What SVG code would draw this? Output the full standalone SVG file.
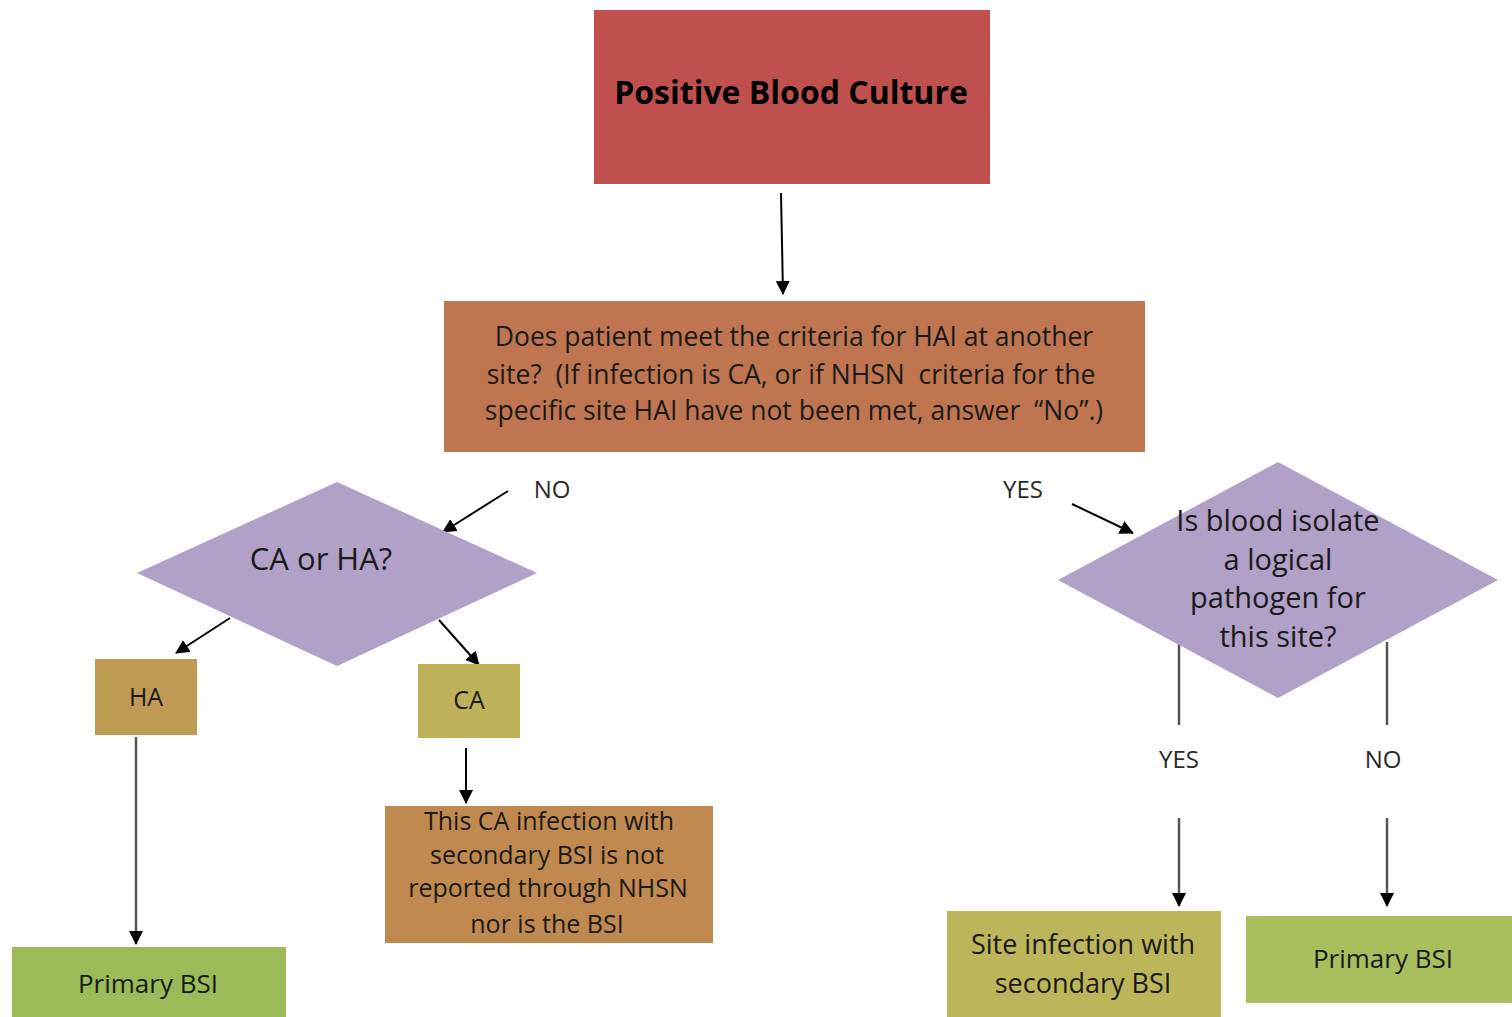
<svg xmlns="http://www.w3.org/2000/svg" width="1512" height="1017" viewBox="0 0 1512 1017">
<defs>
<marker id="ah" markerWidth="14" markerHeight="14" refX="13" refY="7" orient="auto" markerUnits="userSpaceOnUse" viewBox="0 0 14 14">
<path d="M0,0 L14,7 L0,14 z" fill="#000"/>
</marker>
<style>
text{font-family:"Open Sans","Liberation Sans",sans-serif;fill:#1a1a1a;text-anchor:middle;white-space:pre}
.lbl{font-size:24px;fill:#2a2a2a}
.c{stroke:#000;stroke-width:2;fill:none}
.g{stroke:#555;stroke-width:2.5;fill:none}
</style>
</defs>
<rect width="1512" height="1017" fill="#fff"/>
<g id="connectors">
<line class="c" x1="781" y1="193" x2="783" y2="294" marker-end="url(#ah)"/>
<line class="c" x1="508" y1="491" x2="443" y2="532" marker-end="url(#ah)"/>
<line class="c" x1="1072" y1="504" x2="1133" y2="533" marker-end="url(#ah)"/>
<line class="c" x1="230" y1="618" x2="176" y2="653" marker-end="url(#ah)"/>
<line class="c" x1="439" y1="620" x2="479" y2="665" marker-end="url(#ah)"/>
<line class="g" x1="136" y1="737" x2="136" y2="944" marker-end="url(#ah)"/>
<line class="c" x1="466" y1="748" x2="466" y2="803" marker-end="url(#ah)"/>
<line class="g" x1="1179" y1="642" x2="1179" y2="725"/>
<line class="g" x1="1387" y1="642" x2="1387" y2="725"/>
<line class="g" x1="1179" y1="818" x2="1179" y2="906" marker-end="url(#ah)"/>
<line class="g" x1="1387" y1="818" x2="1387" y2="906" marker-end="url(#ah)"/>
<text class="lbl" x="552" y="498">NO</text>
<text class="lbl" x="1023" y="498">YES</text>
<text class="lbl" x="1179" y="768">YES</text>
<text class="lbl" x="1383" y="768">NO</text>
</g>
<g id="start">
<rect x="594" y="10" width="396" height="174" fill="#C0504D"/>
<text x="791" y="104" style="font-size:32px;font-weight:bold;fill:#000">Positive Blood Culture</text>
</g>
<g id="q1">
<rect x="444" y="301" width="701" height="151" fill="#BE7550"/>
<text x="794" y="346" style="font-size:26.5px">Does patient meet the criteria for HAI at another</text>
<text x="791" y="384" style="font-size:26.5px">site?  (If infection is CA, or if NHSN  criteria for the</text>
<text x="794" y="420" style="font-size:26.5px">specific site HAI have not been met, answer  “No”.)</text>
</g>
<g id="q2">
<polygon points="337,482 537,573 337,666 137,573" fill="#B1A0C7"/>
<text x="321" y="570" style="font-size:31px">CA or HA?</text>
</g>
<g id="ha">
<rect x="95" y="659" width="102" height="76" fill="#BF9A52"/>
<text x="146" y="706" style="font-size:25px">HA</text>
</g>
<g id="ca">
<rect x="418" y="664" width="102" height="74" fill="#BFB05A"/>
<text x="469" y="709" style="font-size:25px">CA</text>
</g>
<g id="caresult">
<rect x="385" y="806" width="328" height="137" fill="#C0894F"/>
<text x="549" y="830" style="font-size:25px">This CA infection with</text>
<text x="547" y="864" style="font-size:25px">secondary BSI is not</text>
<text x="548" y="897" style="font-size:25px">reported through NHSN</text>
<text x="547" y="933" style="font-size:25px">nor is the BSI</text>
</g>
<g id="primary1">
<rect x="12" y="947" width="274" height="70" fill="#9BBB59"/>
<text x="148" y="993" style="font-size:26px">Primary BSI</text>
</g>
<g id="q3">
<polygon points="1278,462 1498,580 1278,698 1058,580" fill="#B1A0C7"/>
<text x="1278" y="531" style="font-size:29px">Is blood isolate</text>
<text x="1278" y="570" style="font-size:29px">a logical</text>
<text x="1278" y="608" style="font-size:29px">pathogen for</text>
<text x="1278" y="647" style="font-size:29px">this site?</text>
</g>
<g id="site">
<rect x="947" y="911" width="274" height="106" fill="#BCB55A"/>
<text x="1083" y="954" style="font-size:27px">Site infection with</text>
<text x="1083" y="993" style="font-size:27px">secondary BSI</text>
</g>
<g id="primary2">
<rect x="1246" y="916" width="266" height="87" fill="#A9BF5E"/>
<text x="1383" y="968" style="font-size:26px">Primary BSI</text>
</g>
</svg>
